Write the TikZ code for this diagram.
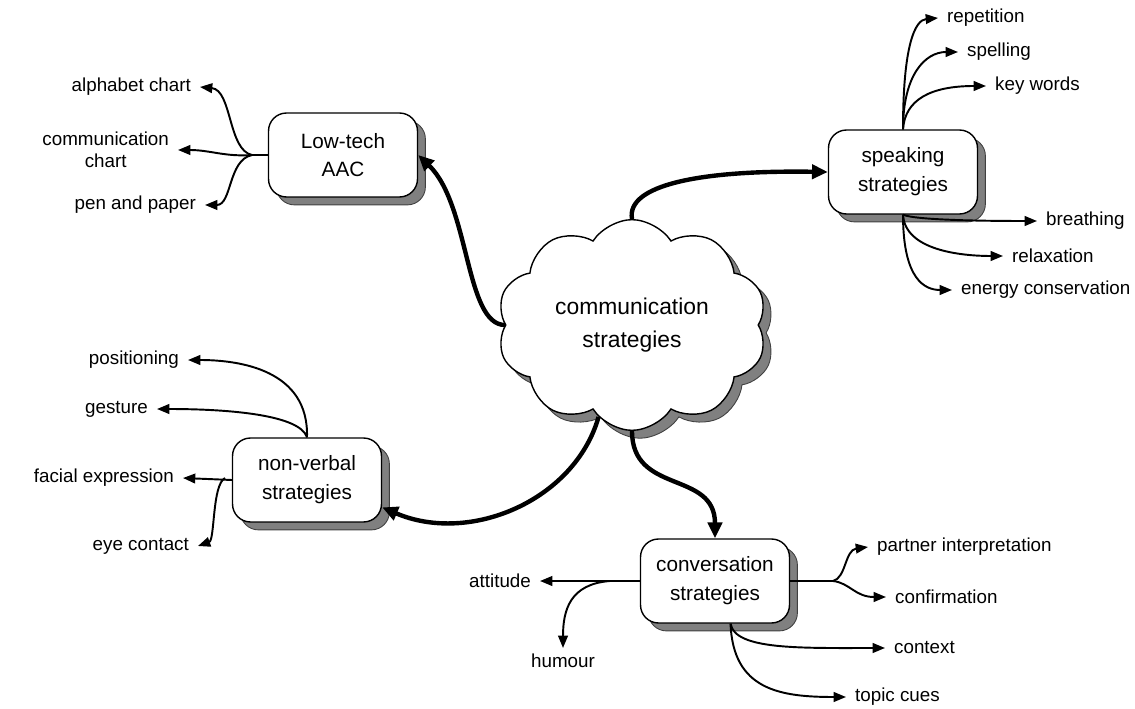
\documentclass[tikz,border=0pt]{standalone}
\usepackage{fontspec}
\setmainfont{Liberation Sans}
\usetikzlibrary{shapes.symbols,shadows,arrows.meta}

\tikzset{
  shade gray/.style={drop shadow={shadow xshift=4.5pt, shadow yshift=-4.5pt,
    fill=black!50, draw=black!75, line width=0.5pt, opacity=1}},
  topic/.style={draw, line width=0.8pt, rounded corners=0.36cm, fill=white,
    minimum width=2.98cm, minimum height=1.68cm, align=center,
    font=\fontsize{11.8}{16.4}\selectfont, shade gray},
  leaf/.style={inner xsep=5pt, inner ysep=1pt, align=center,
    font=\fontsize{10.7}{12.5}\selectfont},
  branch/.style={line width=1.1pt, -{Triangle[length=7pt,width=5.5pt]}},
  main/.style={line width=2.5pt, -{Triangle[length=9pt,width=8pt]}},
}

\begin{document}
\begin{tikzpicture}[x=0.02cm, y=-0.02cm]
  \useasboundingbox (0,0) rectangle (1135,709);

  % centre
  \node[cloud, draw, fill=white, cloud puffs=10, cloud puff arc=115, aspect=1.3,
    minimum width=5.4cm, minimum height=4.1cm, line width=0.8pt, align=center,
    font=\fontsize{13}{18.7}\selectfont, shade gray]
    (cloud) at (632,325) {communication\\strategies};

  % the four groups
  \node[topic] (lowtech) at (343,155) {Low-tech\\AAC};
  \node[topic] (speak) at (903,172) {speaking\\strategies};
  \node[topic] (nonverbal) at (307,480) {non-verbal\\strategies};
  \node[topic] (conv) at (715,581) {conversation\\strategies};

  \draw[main] (cloud.west) .. controls (465,325) and (470,205) .. (lowtech.east);
  \draw[main] (cloud.north) .. controls (626,185) and (700,170) .. (speak.west);
  \draw[main] (cloud.250) .. controls (575,500) and (470,545) .. (nonverbal.-20);
  \draw[main] (cloud.270) .. controls (632,495) and (715,470) .. (conv.north);

  % Low-tech AAC
  \node[leaf, anchor=east] (alph) at (200,87) {alphabet chart};
  \node[leaf, anchor=east] (comm) at (178,150) {communication\\chart};
  \node[leaf, anchor=east] (pen) at (205,205) {pen and paper};
  \coordinate (lj) at (252,155);
  \draw[line width=1.1pt] (lowtech.west) -- (lj);
  \draw[branch] (lj) .. controls (228,150) and (232,90) .. (alph.east);
  \draw[branch] (lj) .. controls (225,157) and (210,150) .. (comm.east);
  \draw[branch] (lj) .. controls (228,160) and (232,205) .. (pen.east);

  % speaking strategies
  \node[leaf, anchor=west] (rep) at (938,18) {repetition};
  \node[leaf, anchor=west] (spell) at (958,52) {spelling};
  \node[leaf, anchor=west] (kw) at (986,86) {key words};
  \node[leaf, anchor=west] (breath) at (1037,221) {breathing};
  \node[leaf, anchor=west] (relax) at (1003,256) {relaxation};
  \node[leaf, anchor=west] (energy) at (952,290) {energy conservation};
  \draw[branch] (speak.north) .. controls (903,45) and (915,20) .. (rep.west);
  \draw[branch] (speak.north) .. controls (903,75) and (925,52) .. (spell.west);
  \draw[branch] (speak.north) .. controls (905,100) and (930,86) .. (kw.west);
  \draw[branch] (speak.south) .. controls (915,220) and (980,221) .. (breath.west);
  \draw[branch] (speak.south) .. controls (905,250) and (960,256) .. (relax.west);
  \draw[branch] (speak.south) .. controls (903,280) and (925,290) .. (energy.west);

  % non-verbal strategies
  \node[leaf, anchor=east] (pos) at (188,360) {positioning};
  \node[leaf, anchor=east] (gest) at (157,409) {gesture};
  \node[leaf, anchor=east] (face) at (183,478) {facial expression};
  \node[leaf, anchor=east] (eye) at (198,546) {eye contact};
  \coordinate (nj) at (225,478);
  \draw[branch] (nonverbal.north) .. controls (309,370) and (240,360) .. (pos.east);
  \draw[branch] (nonverbal.north) .. controls (300,415) and (230,409) .. (gest.east);
  \draw[branch] (nonverbal.west) -- (face.east);
  \draw[branch] (nj) .. controls (212,485) and (215,540) .. (eye.east);

  % conversation strategies
  \node[leaf, anchor=east] (att) at (540,581) {attitude};
  \node[leaf, anchor=north, inner ysep=3pt] (hum) at (563,648) {humour};
  \node[leaf, anchor=west] (partner) at (868,547) {partner interpretation};
  \node[leaf, anchor=west] (conf) at (886,597) {confirmation};
  \node[leaf, anchor=west] (ctx) at (885,648) {context};
  \node[leaf, anchor=west] (topic) at (846,697) {topic cues};
  \coordinate (cw) at (610,581);
  \coordinate (ce) at (833,581);
  \draw[branch] (conv.west) -- (att.east);
  \draw[branch] (cw) .. controls (570,584) and (563,610) .. (hum.north);
  \draw[line width=1.1pt] (conv.east) -- (ce);
  \draw[branch] (ce) .. controls (846,578) and (845,550) .. (partner.west);
  \draw[branch] (ce) .. controls (850,583) and (855,597) .. (conf.west);
  \draw[branch] (conv.-70) .. controls (735,650) and (800,648) .. (ctx.west);
  \draw[branch] (conv.-70) .. controls (733,690) and (780,697) .. (topic.west);
\end{tikzpicture}
\end{document}
